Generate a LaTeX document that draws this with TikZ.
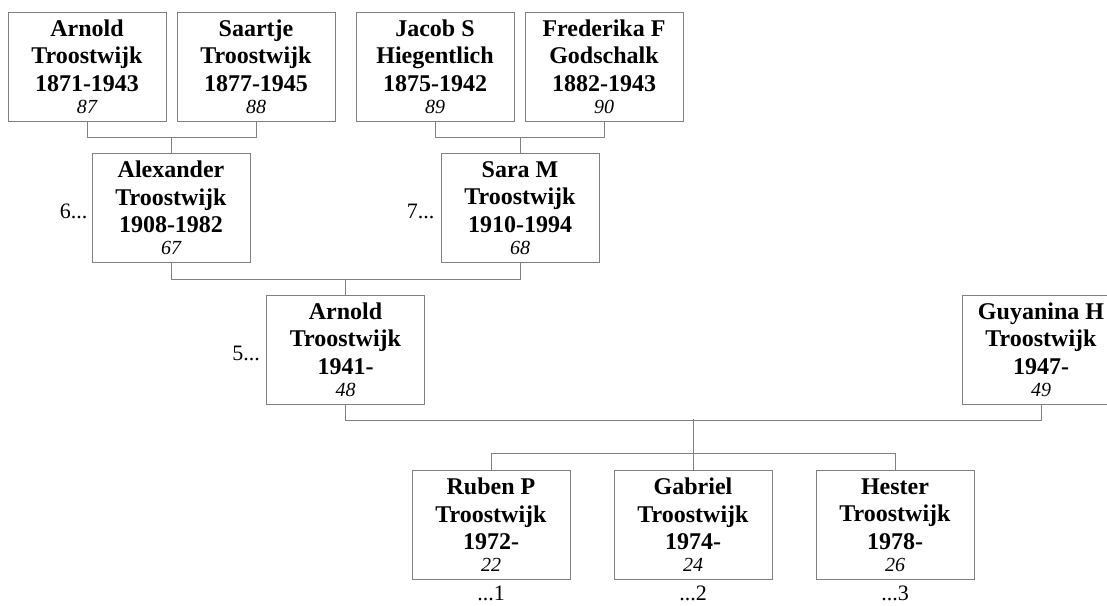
\documentclass[tikz,border=0pt]{standalone}
\usepackage{fontspec}
\setmainfont{Liberation Serif}
\definecolor{boxgray}{RGB}{128,128,128}
\tikzset{
  person/.style={draw=boxgray, line width=1pt, fill=white, minimum width=158pt,
    minimum height=109pt, inner sep=0pt, align=center,
    font=\fontsize{24}{27.5}\selectfont\bfseries},
  conn/.style={draw=boxgray, line width=1pt},
  lbl/.style={font=\fontsize{22}{24}\selectfont, inner sep=0pt}
}
\newcommand{\pnum}[1]{\\[-5.5pt]{\fontsize{20}{20}\selectfont\mdseries\itshape #1}}
\begin{document}
\begin{tikzpicture}[x=1pt,y=-1pt]
\useasboundingbox (0,0) rectangle (1107,605);
\clip (0,0) rectangle (1107,605);
% generation 1
\node[person] (A1) at (87,66.5) {Arnold\\Troostwijk\\1871-1943\pnum{87}};
\node[person] (A2) at (256,66.5) {Saartje\\Troostwijk\\1877-1945\pnum{88}};
\node[person] (A3) at (435,66.5) {Jacob S\\Hiegentlich\\1875-1942\pnum{89}};
\node[person] (A4) at (604,66.5) {Frederika F\\Godschalk\\1882-1943\pnum{90}};
% generation 2
\node[person] (B1) at (171,208) {Alexander\\Troostwijk\\1908-1982\pnum{67}};
\node[person] (B2) at (520,208) {Sara M\\Troostwijk\\1910-1994\pnum{68}};
% generation 3
\node[person] (C1) at (345.5,349.5) {Arnold\\Troostwijk\\1941-\pnum{48}};
\node[person] (C2) at (1041,349.5) {Guyanina H\\Troostwijk\\1947-\pnum{49}};
% generation 4
\node[person] (D1) at (491,525) {Ruben P\\Troostwijk\\1972-\pnum{22}};
\node[person] (D2) at (693,525) {Gabriel\\Troostwijk\\1974-\pnum{24}};
\node[person] (D3) at (895,525) {Hester\\Troostwijk\\1978-\pnum{26}};
% labels
\node[lbl, anchor=base east] (L6) at ([xshift=-4pt,yshift=-10.5pt]B1.west) {6...};
\node[lbl, anchor=base east] (L7) at ([xshift=-6pt,yshift=-10.5pt]B2.west) {7...};
\node[lbl, anchor=base east] (L5) at ([xshift=-6pt,yshift=-10.5pt]C1.west) {5...};
\node[lbl, anchor=base] (L1) at ([yshift=-20.5pt]D1.south) {...1};
\node[lbl, anchor=base] (L2) at ([yshift=-20.5pt]D2.south) {...2};
\node[lbl, anchor=base] (L3) at ([yshift=-20.5pt]D3.south) {...3};
% connectors
\draw[conn] (A1.south) -- ++(0,16) -| (A2.south);
\draw[conn] (B1.north) -- ++(0,-16);
\draw[conn] (A3.south) -- ++(0,16) -| (A4.south);
\draw[conn] (B2.north) -- ++(0,-16);
\draw[conn] (B1.south) -- ++(0,16) -| (B2.south);
\draw[conn] (C1.north) -- ++(0,-16);
\draw[conn] (C1.south) -- ++(0,16) -| (C2.south);
\draw[conn] (D1.north) -- ++(0,-17) -| (D3.north);
\draw[conn] (D2.north) -- ++(0,-51);
\end{tikzpicture}
\end{document}
